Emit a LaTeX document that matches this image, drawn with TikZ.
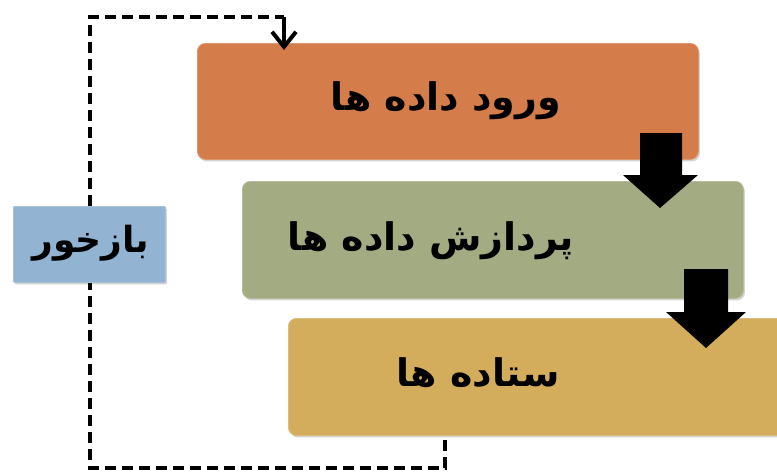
\documentclass[tikz,border=0pt]{standalone}
\usepackage{fontspec}
\usetikzlibrary{arrows.meta,shadows}
\newfontfamily\arabicfont[Script=Arabic]{DejaVu Sans}
\TeXXeTstate=1
\definecolor{cOrange}{HTML}{D57D4A}
\definecolor{cGreen}{HTML}{A3AB82}
\definecolor{cGold}{HTML}{D3AC5C}
\definecolor{cBlue}{HTML}{93B3D3}
\tikzset{
  box/.style={draw=#1!80!white, line width=0.8pt, fill=#1, rounded corners=8pt, anchor=north west, inner sep=0pt,
    drop shadow={shadow xshift=1.5pt, shadow yshift=-2pt, opacity=0.35}},
  lbl/.style={font=\arabicfont\bfseries\fontsize{38}{42}\selectfont, inner sep=0pt},
  fbline/.style={line width=4.2pt, dash pattern=on 11pt off 6pt},
}
\begin{document}
\begin{tikzpicture}[x=1pt,y=-1pt]
\useasboundingbox (0,0) rectangle (777,474);
% boxes
\node[box=cOrange, minimum width=501pt, minimum height=116pt] (in) at (197,43) {};
\node[box=cGreen, minimum width=501pt, minimum height=117pt] (proc) at (242,181) {};
\node[box=cGold, minimum width=500pt, minimum height=117pt] (out) at (288,318) {};
\node[box=cBlue, rounded corners=1pt, minimum width=152pt, minimum height=76pt] (fb) at (13,206) {};
% labels
\node[lbl] (tin) at (446,101) {\beginR ورود داده ها\endR};
\node[lbl] (tproc) at (431,241) {\beginR پردازش داده ها\endR};
\node[lbl] (tout) at (478,373) {\beginR ستاده ها\endR};
\node[lbl, font=\arabicfont\bfseries\fontsize{36}{40}\selectfont] (tfb) at (91,243) {\beginR بازخور\endR};
% block arrows
\fill[black] (640,133) -- (682,133) -- (682,175) -- (698,175) -- (660,208) -- (623,175) -- (640,175) -- cycle;
\fill[black] (684,269) -- (728,269) -- (728,312) -- (746,312) -- (706,348) -- (666,312) -- (684,312) -- cycle;
% feedback loop
\coordinate (inTop) at (284,50);
\coordinate (corner) at (284,17);
\coordinate (outBot) at (445,440);
\coordinate (botY) at (0,468);
\draw[fbline] (fb.north -| 90,0) -- (90,17) -- (corner);
\draw[line width=4.2pt, -{Straight Barb[length=15pt,width=24pt,line width=4pt]}] (corner) -- (inTop);
\draw[fbline] (outBot) -- (outBot |- botY) -| (fb.south -| 90,0);
\end{tikzpicture}
\end{document}
